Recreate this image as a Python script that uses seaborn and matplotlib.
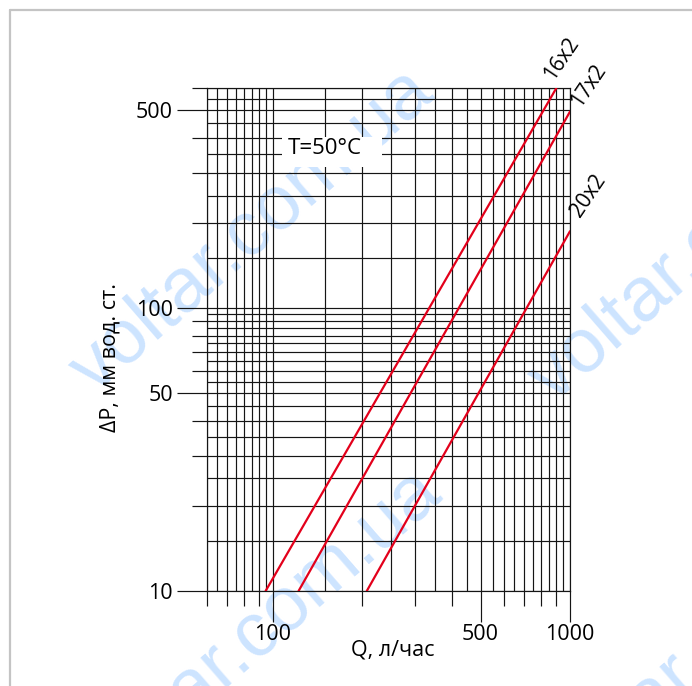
import numpy as np
import pandas as pd
import matplotlib
matplotlib.use('Agg')
import matplotlib.pyplot as plt
import seaborn as sns
from matplotlib.lines import Line2D
from matplotlib.patches import Rectangle
from matplotlib.ticker import NullFormatter

# ---- data ----
pipes = ['16x2', '17x2', '20x2']
q_start = [94.5, 122, 207]      # Q, л/час at the lower end of each line
q_end = [900, 1000, 1000]       # Q, л/час at the upper end
dp_start = [10, 10, 10]         # ΔP at the lower end
dp_end = [600, 495, 187]        # ΔP at the upper end

x_major = [100, 500, 1000]
x_minor = [60, 70, 80, 90, 200, 300, 400, 600, 700, 800, 900]
y_major = [10, 50, 100, 500]
y_minor = [20, 30, 40, 60, 70, 80, 90, 200, 300, 400, 600]
x_grid = list(range(60, 100, 5)) + list(range(100, 1001, 50))
y_grid = list(range(10, 100, 5)) + list(range(100, 601, 50))

df = pd.DataFrame({
    'pipe': [p for p in pipes for _ in range(2)],
    'Q': [v for pair in zip(q_start, q_end) for v in pair],
    'dP': [v for pair in zip(dp_start, dp_end) for v in pair],
})

sns.set_style('ticks')
plt.rcParams['font.family'] = ['Open Sans', 'DejaVu Sans']

W, H = 692, 686
fig = plt.figure(figsize=(W / 100, H / 100), dpi=100)
fig.patch.set_facecolor('white')

# watermark (behind everything)
wm_centers = [(253, 232), (261, 633), (712, 241), (720, 642)]
for cx, cy in wm_centers:
    fig.text(cx / W, 1 - cy / H, 'voltar.com.ua', rotation=41, rotation_mode='anchor',
             ha='center', va='center', fontsize=55, color='#cde4ff',
             family=['Liberation Sans', 'DejaVu Sans'], zorder=-10)

# figure frame (left and top gray lines)
fig.add_artist(Line2D([9.5 / W, 1], [1 - 9.5 / H, 1 - 9.5 / H], transform=fig.transFigure,
                      color='#c4c4c4', lw=1.6))
fig.add_artist(Line2D([9.5 / W, 9.5 / W], [0, 1 - 9.5 / H], transform=fig.transFigure,
                      color='#c4c4c4', lw=1.6))

ax = fig.add_axes([207 / W, 1 - 591 / H, 363 / W, 503 / H])
ax.set_facecolor('none')

sns.lineplot(data=df, x='Q', y='dP', hue='pipe', palette=['#e3001b'] * 3,
             legend=False, ax=ax, linewidth=1.6, estimator=None, sort=False, zorder=4)

ax.set_xscale('log')
ax.set_yscale('log')
ax.set_xlim(60, 1000)
ax.set_ylim(10, 600)

for g in x_grid:
    ax.axvline(g, color='#151515', lw=0.85, zorder=1)
for g in y_grid:
    ax.axhline(g, color='#151515', lw=0.85, zorder=1)

for s in ax.spines.values():
    s.set_visible(True)
    s.set_color('#151515')
    s.set_linewidth(0.85)

ax.set_xticks(x_major, labels=[str(v) for v in x_major])
ax.set_xticks(x_minor, minor=True)
ax.set_yticks(y_major, labels=[str(v) for v in y_major])
ax.set_yticks(y_minor, minor=True)
ax.xaxis.set_minor_formatter(NullFormatter())
ax.yaxis.set_minor_formatter(NullFormatter())

ax.tick_params(axis='x', which='major', length=22, width=0.85, color='#151515',
               labelsize=15.5, pad=1.5, labelcolor='black')
ax.tick_params(axis='x', which='minor', length=10.5, width=0.85, color='#151515')
ax.tick_params(axis='y', which='major', length=21.6, width=0.85, color='#151515',
               labelsize=15.5, pad=3, labelcolor='black')
ax.tick_params(axis='y', which='minor', length=10.8, width=0.85, color='#151515')

ax.set_xlabel('Q, л/час', fontsize=15.5, va='center', color='black')
ax.xaxis.set_label_coords((393 - 207) / 363, (591 - 650) / 503)
ax.set_ylabel('ΔP, мм вод. ст.', fontsize=15.5, va='center', ha='center', color='black')
ax.yaxis.set_label_coords((110 - 207) / 363, (591 - 357) / 503)

# temperature annotation with white box
ax.add_patch(Rectangle((0.206, 0.8436), 0.275, 0.0584, transform=ax.transAxes,
                       facecolor='white', edgecolor='none', zorder=2.5))
ax.text(0.324, 0.879, 'T=50°C', transform=ax.transAxes, ha='center', va='center',
        fontsize=16, color='black', zorder=5)

# line labels
offsets = [(5, 29), (19, 26), (18, 36)]
for p, qx, dy, off in zip(pipes, q_end, dp_end, offsets):
    ax.annotate(p, xy=(qx, dy), xytext=off, textcoords='offset pixels',
                rotation=56, rotation_mode='anchor', ha='center', va='center',
                fontsize=15, color='black', annotation_clip=False)

fig.savefig('out.png', dpi=100, facecolor='white')
